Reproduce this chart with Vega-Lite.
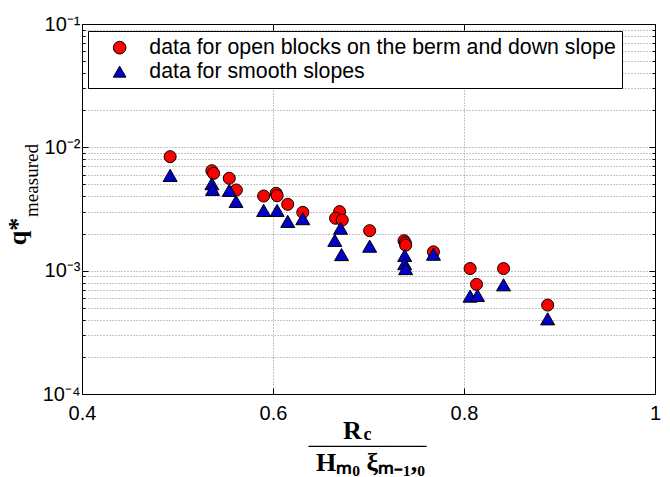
{
  "$schema": "https://vega.github.io/schema/vega-lite/v6.json",
  "width": 573,
  "height": 370,
  "autosize": {"type": "none"},
  "padding": {"left": 82, "top": 24, "right": 15, "bottom": 83},
  "background": "white",
  "datasets": {
    "pts": [
      {"x": 0.4923, "q": 0.0084, "s": "data for open blocks on the berm and down slope"},
      {"x": 0.536, "q": 0.00646, "s": "data for open blocks on the berm and down slope"},
      {"x": 0.5378, "q": 0.00615, "s": "data for open blocks on the berm and down slope"},
      {"x": 0.5542, "q": 0.00561, "s": "data for open blocks on the berm and down slope"},
      {"x": 0.5616, "q": 0.00451, "s": "data for open blocks on the berm and down slope"},
      {"x": 0.5902, "q": 0.00403, "s": "data for open blocks on the berm and down slope"},
      {"x": 0.6033, "q": 0.00424, "s": "data for open blocks on the berm and down slope"},
      {"x": 0.6043, "q": 0.00405, "s": "data for open blocks on the berm and down slope"},
      {"x": 0.6154, "q": 0.00345, "s": "data for open blocks on the berm and down slope"},
      {"x": 0.6312, "q": 0.00297, "s": "data for open blocks on the berm and down slope"},
      {"x": 0.6697, "q": 0.00301, "s": "data for open blocks on the berm and down slope"},
      {"x": 0.6655, "q": 0.00266, "s": "data for open blocks on the berm and down slope"},
      {"x": 0.6725, "q": 0.00257, "s": "data for open blocks on the berm and down slope"},
      {"x": 0.7012, "q": 0.00211, "s": "data for open blocks on the berm and down slope"},
      {"x": 0.7372, "q": 0.00175, "s": "data for open blocks on the berm and down slope"},
      {"x": 0.7385, "q": 0.00168, "s": "data for open blocks on the berm and down slope"},
      {"x": 0.7389, "q": 0.00161, "s": "data for open blocks on the berm and down slope"},
      {"x": 0.768, "q": 0.00142, "s": "data for open blocks on the berm and down slope"},
      {"x": 0.8064, "q": 0.00104, "s": "data for open blocks on the berm and down slope"},
      {"x": 0.8131, "q": 0.000774, "s": "data for open blocks on the berm and down slope"},
      {"x": 0.8414, "q": 0.00104, "s": "data for open blocks on the berm and down slope"},
      {"x": 0.8876, "q": 0.000526, "s": "data for open blocks on the berm and down slope"},
      {"x": 0.4923, "q": 0.00592, "s": "data for smooth slopes"},
      {"x": 0.536, "q": 0.00507, "s": "data for smooth slopes"},
      {"x": 0.5367, "q": 0.00456, "s": "data for smooth slopes"},
      {"x": 0.5542, "q": 0.00448, "s": "data for smooth slopes"},
      {"x": 0.5613, "q": 0.00364, "s": "data for smooth slopes"},
      {"x": 0.5902, "q": 0.00308, "s": "data for smooth slopes"},
      {"x": 0.6043, "q": 0.00308, "s": "data for smooth slopes"},
      {"x": 0.6154, "q": 0.00251, "s": "data for smooth slopes"},
      {"x": 0.6312, "q": 0.00264, "s": "data for smooth slopes"},
      {"x": 0.6707, "q": 0.00221, "s": "data for smooth slopes"},
      {"x": 0.6647, "q": 0.00176, "s": "data for smooth slopes"},
      {"x": 0.6718, "q": 0.00135, "s": "data for smooth slopes"},
      {"x": 0.7012, "q": 0.00158, "s": "data for smooth slopes"},
      {"x": 0.7379, "q": 0.00133, "s": "data for smooth slopes"},
      {"x": 0.7379, "q": 0.00114, "s": "data for smooth slopes"},
      {"x": 0.7389, "q": 0.00104, "s": "data for smooth slopes"},
      {"x": 0.768, "q": 0.00136, "s": "data for smooth slopes"},
      {"x": 0.8064, "q": 0.000622, "s": "data for smooth slopes"},
      {"x": 0.8142, "q": 0.00063, "s": "data for smooth slopes"},
      {"x": 0.8414, "q": 0.000768, "s": "data for smooth slopes"},
      {"x": 0.8876, "q": 0.000407, "s": "data for smooth slopes"}
    ]
  },
  "data": {"name": "pts"},
  "layer": [
    {
      "transform": [{"filter": "datum.s == 'data for open blocks on the berm and down slope'"}],
      "mark": {"type": "point", "filled": true, "size": 145, "stroke": "black", "strokeWidth": 1, "opacity": 1},
      "encoding": {
        "x": {
          "field": "x", "type": "quantitative",
          "scale": {"domain": [0.4, 1], "nice": false, "zero": false},
          "axis": {
            "orient": "bottom",
            "values": [0.4, 0.6, 0.8, 1],
            "labelExpr": "datum.value == 1 ? '1' : format(datum.value, '.1f')",
            "labelFont": "Liberation Sans", "labelFontSize": 20, "labelColor": "black",
            "labelPadding": 15, "labelFlush": false, "labelOverlap": false,
            "domain": false,
            "ticks": true, "tickSize": -6, "tickColor": "black", "tickWidth": 1,
            "grid": true, "gridColor": "#8c8c8c", "gridDash": [1, 2], "gridWidth": 1,
            "gridOpacity": {"condition": {"test": "datum.value < 0.45 || datum.value > 0.95", "value": 0}, "value": 1},
            "title": "Hₘ₀ ξₘ₋₁,₀",
            "titleFont": "Liberation Serif", "titleFontWeight": "bold", "titleFontSize": 26, "titleColor": "black",
            "titleX": 288, "titleY": 76, "titleAlign": "center", "titleBaseline": "alphabetic", "titleAngle": 0
          }
        },
        "y": {
          "field": "q", "type": "quantitative",
          "scale": {"type": "log", "domain": [0.0001, 0.1], "nice": false},
          "axis": {
            "orient": "left",
            "values": [0.0001, 0.0002, 0.0003, 0.0004, 0.0005, 0.0006, 0.0007, 0.0008, 0.0009, 0.001, 0.002, 0.003, 0.004, 0.005, 0.006, 0.007, 0.008, 0.009, 0.01, 0.02, 0.03, 0.04, 0.05, 0.06, 0.07, 0.08, 0.09, 0.1],
            "labelExpr": "abs(log(datum.value)/LN10 - round(log(datum.value)/LN10)) < 0.001 ? '10⁻' + ['⁰','¹','²','³','⁴'][-round(log(datum.value)/LN10)] : ''",
            "labelFont": "Liberation Sans", "labelFontSize": 20, "labelColor": "black",
            "labelPadding": 8, "labelFlush": false, "labelOverlap": false, "labelBaseline": "middle",
            "domain": false,
            "ticks": true, "tickColor": "black", "tickWidth": 1,
            "tickSize": {"condition": {"test": "abs(log(datum.value)/LN10 - round(log(datum.value)/LN10)) < 0.001", "value": -6}, "value": -3},
            "grid": true, "gridColor": "#8c8c8c", "gridDash": [1, 2], "gridWidth": 1,
            "gridOpacity": {"condition": {"test": "datum.value < 0.00011 || datum.value > 0.095", "value": 0}, "value": 1},
            "title": "q*",
            "titleFont": "Liberation Serif", "titleFontWeight": "bold", "titleFontSize": 26, "titleColor": "black",
            "titleX": -57, "titleY": 207, "titleAlign": "center", "titleBaseline": "alphabetic", "titleAngle": 270
          }
        },
        "color": {
          "field": "s", "type": "nominal",
          "scale": {"domain": ["data for open blocks on the berm and down slope", "data for smooth slopes"], "range": ["#ff0000", "#0000c8"]},
          "legend": {
            "orient": "none", "legendX": 6, "legendY": 7, "title": null,
            "strokeColor": "black", "fillColor": "white", "padding": 6,
            "symbolOffset": 15, "symbolSize": 160, "symbolStrokeColor": "black", "symbolStrokeWidth": 1,
            "labelFont": "Liberation Sans", "labelFontSize": 21.3, "labelColor": "black", "labelOffset": 19, "labelLimit": 1000,
            "rowPadding": 2
          }
        },
        "shape": {
          "field": "s", "type": "nominal",
          "scale": {"domain": ["data for open blocks on the berm and down slope", "data for smooth slopes"], "range": ["circle", "triangle-up"]},
          "legend": {
            "orient": "none", "legendX": 6, "legendY": 7, "title": null,
            "strokeColor": "black", "fillColor": "white", "padding": 6,
            "symbolOffset": 15, "symbolSize": 160, "symbolStrokeColor": "black", "symbolStrokeWidth": 1,
            "labelFont": "Liberation Sans", "labelFontSize": 21.3, "labelColor": "black", "labelOffset": 19, "labelLimit": 1000,
            "rowPadding": 2
          }
        }
      }
    },
    {
      "transform": [{"filter": "datum.s == 'data for smooth slopes'"}],
      "mark": {"type": "point", "filled": true, "size": 196, "stroke": "black", "strokeWidth": 1, "opacity": 1},
      "encoding": {
        "x": {
          "field": "x", "type": "quantitative",
          "scale": {"domain": [0.4, 1], "nice": false, "zero": false},
          "axis": {
            "orient": "top",
            "values": [0.4, 0.6, 0.8, 1],
            "labels": false, "domain": false, "grid": false,
            "ticks": true, "tickSize": -6, "tickColor": "black", "tickWidth": 1,
            "title": "R",
            "titleFont": "Liberation Serif", "titleFontWeight": "bold", "titleFontSize": 26, "titleColor": "black",
            "titleX": 270, "titleY": 414, "titleAlign": "center", "titleBaseline": "alphabetic", "titleAngle": 0
          }
        },
        "y": {
          "field": "q", "type": "quantitative",
          "scale": {"type": "log", "domain": [0.0001, 0.1], "nice": false},
          "axis": {
            "orient": "right",
            "values": [0.0001, 0.0002, 0.0003, 0.0004, 0.0005, 0.0006, 0.0007, 0.0008, 0.0009, 0.001, 0.002, 0.003, 0.004, 0.005, 0.006, 0.007, 0.008, 0.009, 0.01, 0.02, 0.03, 0.04, 0.05, 0.06, 0.07, 0.08, 0.09, 0.1],
            "labels": false, "domain": false, "grid": false,
            "ticks": true, "tickColor": "black", "tickWidth": 1,
            "tickSize": {"condition": {"test": "abs(log(datum.value)/LN10 - round(log(datum.value)/LN10)) < 0.001", "value": -6}, "value": -3},
            "title": "measured",
            "titleFont": "Liberation Serif", "titleFontWeight": "normal", "titleFontSize": 19, "titleColor": "black",
            "titleX": -618, "titleY": 156, "titleAlign": "center", "titleBaseline": "alphabetic", "titleAngle": 270
          }
        },
        "color": {
          "field": "s", "type": "nominal",
          "scale": {"domain": ["data for open blocks on the berm and down slope", "data for smooth slopes"], "range": ["#ff0000", "#0000c8"]}
        },
        "shape": {
          "field": "s", "type": "nominal",
          "scale": {"domain": ["data for open blocks on the berm and down slope", "data for smooth slopes"], "range": ["circle", "triangle-up"]}
        }
      }
    }
  ],
  "resolve": {"axis": {"x": "independent", "y": "independent"}},
  "title": {
    "text": "c",
    "subtitle": "──────────────",
    "orient": "bottom",
    "frame": "group",
    "anchor": "middle",
    "offset": -49,
    "dx": -1,
    "font": "Liberation Serif",
    "fontSize": 18,
    "fontWeight": "bold",
    "color": "black",
    "baseline": "top",
    "subtitleFont": "DejaVu Sans Mono",
    "subtitleFontSize": 14,
    "subtitleColor": "black",
    "subtitlePadding": -4
  },
  "config": {
    "view": {"stroke": "black", "strokeWidth": 1, "fill": "white"}
  }
}
